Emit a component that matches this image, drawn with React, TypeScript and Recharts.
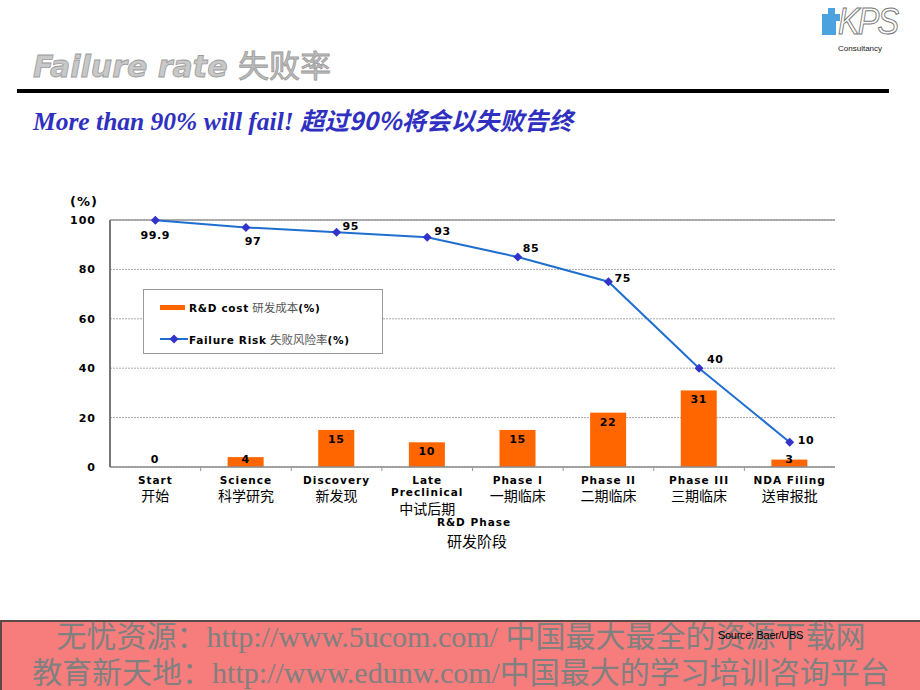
import React from 'react';
import {
  ComposedChart,
  Bar,
  Line,
  XAxis,
  YAxis,
  CartesianGrid,
  Legend,
  ReferenceLine,
  LabelList,
} from 'recharts';

const stagesEn = ['Start', 'Science', 'Discovery', 'Late\nPreclinical', 'Phase I', 'Phase II', 'Phase III', 'NDA Filing'];
const stagesZh = ['开始', '科学研究', '新发现', '中试后期', '一期临床', '二期临床', '三期临床', '送审报批'];
const rdCost = [0, 4, 15, 10, 15, 22, 31, 3];
const failureRisk = [99.9, 97, 95, 93, 85, 75, 40, 10];
const yTicks = [0, 20, 40, 60, 80, 100];

const data = stagesEn.map((stage, i) => ({
  stage,
  cost: rdCost[i],
  risk: failureRisk[i],
}));

// where each failure-risk value sits next to its marker: [dx, dy, anchor]
const riskLabelPlace: [number, number, string][] = [
  [0, 19, 'middle'],
  [7, 18, 'middle'],
  [6, -2, 'start'],
  [7, -2, 'start'],
  [5, -5, 'start'],
  [6, 0, 'start'],
  [8, -5, 'start'],
  [8, 2, 'start'],
];

const boldFont = '"DejaVu Sans", Verdana, sans-serif';
const cjkFont = '"Noto Sans CJK SC", sans-serif';

const Diamond = (props: any) => {
  const { cx, cy } = props;
  if (cx == null || cy == null) return null;
  const r = 4.5;
  return (
    <path
      d={`M${cx},${cy - r}L${cx + r},${cy}L${cx},${cy + r}L${cx - r},${cy}Z`}
      fill="#3333CC"
    />
  );
};

const RiskLabel = (props: any) => {
  const { x, y, value, index } = props;
  const [dx, dy, anchor] = riskLabelPlace[index] || [6, 0, 'start'];
  return (
    <text
      x={x + dx}
      y={y + dy}
      textAnchor={anchor as any}
      fontFamily={boldFont}
      fontWeight="bold"
      fontSize={11}
      letterSpacing={0.6}
      fill="#000"
    >
      {value}
    </text>
  );
};

// bar with its value printed at the top (small bars: just above the axis)
const CostBar = (props: any) => {
  const { x, y, width, height, payload, fill } = props;
  if (x == null || y == null) return null;
  const base = y + height;
  const ty = Math.min(y + 13, base - 4);
  return (
    <g>
      {height > 0 && <rect x={x} y={y} width={width} height={height} fill={fill} />}
      <text
        x={x + width / 2}
        y={ty}
        textAnchor="middle"
        fontFamily={boldFont}
        fontWeight="bold"
        fontSize={11}
        letterSpacing={0.6}
        fill="#000"
      >
        {String(payload.cost)}
      </text>
    </g>
  );
};

const StageTick = (props: any) => {
  const { x, y, payload, index } = props;
  const en: string[] = String(payload.value).split('\n');
  const zh = stagesZh[index];
  const half = 45.3;
  return (
    <g>
      {index > 0 && (
        <line x1={x - half} y1={y} x2={x - half} y2={y + 4} stroke="#999" />
      )}
      {en.map((t, i) => (
        <text
          key={i}
          x={x}
          y={y + 17 + i * 12}
          textAnchor="middle"
          fontFamily={boldFont}
          fontWeight="bold"
          fontSize={10.5}
          letterSpacing={1}
          fill="#000"
        >
          {t}
        </text>
      ))}
      <text
        x={x}
        y={y + (en.length > 1 ? 47 : 34)}
        textAnchor="middle"
        fontFamily={cjkFont}
        fontSize={14}
        fill="#000"
      >
        {zh}
      </text>
    </g>
  );
};

const LegendBox = () => (
  <div
    style={{
      width: 240,
      height: 65,
      border: '1px solid #999',
      background: '#fff',
      boxSizing: 'border-box',
      position: 'relative',
      fontFamily: boldFont,
      fontSize: 10.5,
      color: '#000',
    }}
  >
    <div style={{ position: 'absolute', left: 16, top: 15, width: 25, height: 5, background: '#FF6600' }} />
    <div style={{ position: 'absolute', left: 45, top: 9, whiteSpace: 'nowrap' }}>
      <b style={{ letterSpacing: 0.7 }}>R&amp;D cost</b>{' '}
      <span style={{ fontFamily: cjkFont, color: '#555', fontSize: 11.5 }}>研发成本</span>
      <b style={{ letterSpacing: 0.7 }}>(%)</b>
    </div>
    <svg style={{ position: 'absolute', left: 15, top: 43 }} width={30} height={12}>
      <line x1={1} y1={6} x2={29} y2={6} stroke="#1F6FD0" strokeWidth={2} />
      <path d="M15,1.5L19.5,6L15,10.5L10.5,6Z" fill="#3333CC" />
    </svg>
    <div style={{ position: 'absolute', left: 45, top: 41, whiteSpace: 'nowrap' }}>
      <b style={{ letterSpacing: 0.7 }}>Failure Risk</b>{' '}
      <span style={{ fontFamily: cjkFont, color: '#555', fontSize: 11.5 }}>失败风险率</span>
      <b style={{ letterSpacing: 0.7 }}>(%)</b>
    </div>
  </div>
);

export default function App() {
  return (
    <div
      style={{
        position: 'absolute',
        left: 0,
        top: 0,
        width: 920,
        height: 690,
        overflow: 'hidden',
        background: '#fff',
        fontFamily: '"Liberation Sans", Arial, sans-serif',
      }}
    >
      {/* logo */}
      <div style={{ position: 'absolute', left: 822, top: 14, width: 18, height: 7, background: '#4AA3DF' }} />
      <div style={{ position: 'absolute', left: 828, top: 8, width: 7, height: 20, background: '#4AA3DF' }} />
      <div style={{ position: 'absolute', left: 822, top: 21, width: 14, height: 14, background: '#4AA3DF' }} />
      <div
        style={{
          position: 'absolute',
          left: 838,
          top: 2,
          fontSize: 36,
          lineHeight: '40px',
          fontStyle: 'italic',
          fontFamily: '"Liberation Sans", Arial, sans-serif',
          color: '#fff',
          WebkitTextStroke: '1px #777',
          letterSpacing: -2,
          transform: 'scaleX(0.9)',
          transformOrigin: 'left top',
        }}
      >
        KPS
      </div>
      <div style={{ position: 'absolute', left: 838, top: 44, fontSize: 8, lineHeight: '9px', color: '#222' }}>
        Consultancy
      </div>

      {/* title */}
      <div
        style={{
          position: 'absolute',
          left: 33,
          top: 44,
          fontSize: 30,
          lineHeight: '40px',
          fontWeight: 'bold',
          fontStyle: 'italic',
          color: '#C8C8C8',
          WebkitTextStroke: '0.8px #9A9A9A',
          whiteSpace: 'nowrap',
          fontFamily: boldFont,
        }}
      >
        Failure rate{' '}
        <span style={{ fontFamily: cjkFont, fontStyle: 'normal', fontWeight: 'normal', fontSize: 31, color: '#BDBDBD' }}>
          失败率
        </span>
      </div>
      <div style={{ position: 'absolute', left: 17, top: 89, width: 872, height: 4, background: '#000' }} />
      <div
        style={{
          position: 'absolute',
          left: 33,
          top: 105,
          fontSize: 25.5,
          lineHeight: '30px',
          fontWeight: 'bold',
          fontStyle: 'italic',
          color: '#3030C0',
          whiteSpace: 'nowrap',
          fontFamily: '"Liberation Serif", "Times New Roman", serif',
        }}
      >
        More than 90% will fail!{' '}
        <span style={{ fontFamily: cjkFont, fontStyle: 'italic', fontWeight: 'bold', fontSize: 24.5 }}>
          超过90%将会以失败告终
        </span>
      </div>

      {/* axis unit */}
      <div
        style={{
          position: 'absolute',
          left: 70,
          top: 194,
          fontSize: 13,
          fontWeight: 'bold',
          fontFamily: boldFont,
          letterSpacing: 1,
        }}
      >
        (%)
      </div>

      <div style={{ position: 'absolute', left: 60, top: 190 }}>
        <ComposedChart
          width={800}
          height={370}
          data={data}
          margin={{ top: 30, right: 25, left: 0, bottom: 13 }}
        >
          <CartesianGrid vertical={false} stroke="#A8A8A8" strokeDasharray="2 1" />
          <XAxis
            dataKey="stage"
            interval={0}
            tickLine={false}
            tickSize={0}
            tickMargin={0}
            height={80}
            axisLine={{ stroke: '#8C8C8C', strokeWidth: 1.5 }}
            tick={<StageTick />}
          />
          <YAxis
            domain={[0, 100]}
            ticks={yTicks}
            width={50}
            tickLine={false}
            tickSize={0}
            tickMargin={14}
            axisLine={{ stroke: '#777', strokeWidth: 2 }}
            tick={{ fontFamily: boldFont, fontWeight: 'bold', fontSize: 11, fill: '#000', letterSpacing: 1 }}
          />
          <YAxis
            yAxisId="frame"
            orientation="right"
            domain={[0, 100]}
            width={0}
            tick={false}
            tickLine={false}
            axisLine={{ stroke: '#808080', strokeWidth: 3 }}
          />
          <ReferenceLine y={100} stroke="#999" strokeWidth={1.5} />
          <Legend
            layout="vertical"
            align="center"
            verticalAlign="middle"
            wrapperStyle={{ left: 83, top: 99, width: 240, height: 65 }}
            content={<LegendBox />}
          />
          <Bar
            dataKey="cost"
            name="R&D cost 研发成本(%)"
            barSize={36}
            fill="#FF6600"
            shape={<CostBar />}
            isAnimationActive={false}
          />
          <Line
            dataKey="risk"
            name="Failure Risk 失败风险率(%)"
            type="linear"
            stroke="#1F6FD0"
            strokeWidth={2}
            dot={<Diamond />}
            activeDot={false}
            isAnimationActive={false}
          >
            <LabelList dataKey="risk" content={<RiskLabel />} />
          </Line>
        </ComposedChart>
      </div>

      {/* phase caption */}
      <div
        style={{
          position: 'absolute',
          left: 374,
          top: 516,
          width: 200,
          textAlign: 'center',
          fontSize: 10.5,
          fontWeight: 'bold',
          fontFamily: boldFont,
          letterSpacing: 1,
        }}
      >
        R&amp;D Phase
      </div>
      <div
        style={{
          position: 'absolute',
          left: 377,
          top: 530,
          width: 200,
          textAlign: 'center',
          fontSize: 15,
          fontFamily: cjkFont,
        }}
      >
        研发阶段
      </div>

      {/* footer band */}
      <div
        style={{
          position: 'absolute',
          left: 0,
          top: 620,
          width: 920,
          height: 70,
          background: '#F77C7C',
          borderTop: '2px solid #5a4a4a',
          borderLeft: '2px solid #5a4a4a',
          boxSizing: 'border-box',
          color: '#808080',
          fontFamily: '"Liberation Serif", "Noto Sans CJK SC", serif',
          fontSize: 30,
          lineHeight: '36px',
          textAlign: 'center',
          whiteSpace: 'nowrap',
        }}
      >
        <div style={{ marginTop: -3 }}>无忧资源：http://www.5ucom.com/ 中国最大最全的资源下载网</div>
        <div>教育新天地：http://www.edunw.com/中国最大的学习培训咨询平台</div>
      </div>
      <div style={{ position: 'absolute', left: 718, top: 629, fontSize: 11, color: '#000', letterSpacing: -0.3 }}>
        Source: Baer/UBS
      </div>
    </div>
  );
}
